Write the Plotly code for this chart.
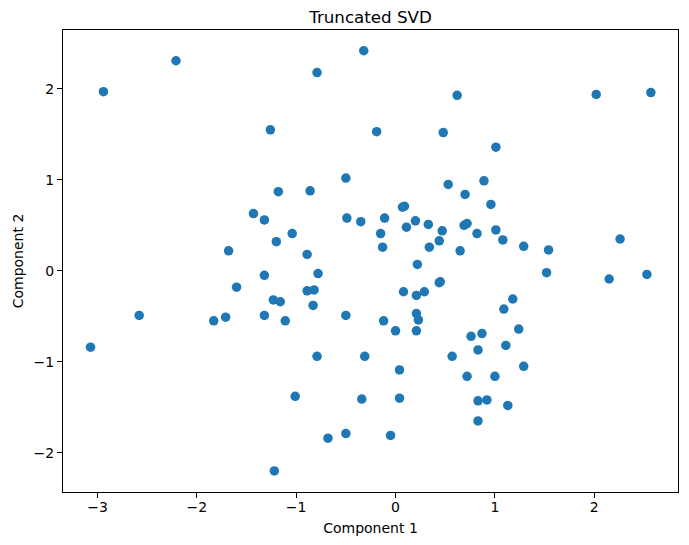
import plotly.graph_objects as go

# component values
comp1 = [
    -2.94, -2.21, -0.79, -1.26, -0.32, -0.19, -0.50, -1.18, -0.86, -1.43,
    -1.32, -1.04, -1.20, -1.68, -0.89, -0.49, -0.35, -1.32, -0.78,
    0.62, 2.02, 2.57, 0.48, 1.01, 0.53, 0.89, 0.70, 0.96, 0.07,
    0.09, -0.11, -0.15, -0.13, 0.11, 0.20, 0.33, 0.47, 0.44, 0.34,
    0.69, 0.72, 0.82, 1.01, 1.08, 1.29, 1.54, 0.65, 0.22, 2.26,
    1.52, 2.53, 2.15,
    -1.60, -0.89, -0.82, -1.23, -1.16, -0.83, -2.58, -1.71, -1.83, -1.32,
    -1.11, -0.50, -3.07, -0.79, -0.31, -1.01, -0.34, -0.68, -0.50, -1.22,
    0.44, 0.45, 0.08, 0.29, 0.21, 1.18, 1.09, 0.21, 0.23, -0.12,
    0.00, 0.21, 1.24, 0.76, 0.87, 1.11, 0.83, 0.57, 1.29, 0.04,
    0.72, 1.00, 0.04, 0.83, 0.92, 1.13, 0.83, -0.05,
]
comp2 = [
    1.97, 2.31, 2.18, 1.55, 2.42, 1.53, 1.02, 0.87, 0.88, 0.63,
    0.56, 0.41, 0.32, 0.22, 0.18, 0.58, 0.54, -0.05, -0.03,
    1.93, 1.94, 1.96, 1.52, 1.36, 0.95, 0.99, 0.84, 0.73, 0.70,
    0.71, 0.58, 0.41, 0.26, 0.48, 0.55, 0.51, 0.44, 0.33, 0.26,
    0.50, 0.52, 0.41, 0.45, 0.34, 0.27, 0.23, 0.22, 0.07, 0.35,
    -0.02, -0.04, -0.09,
    -0.18, -0.22, -0.21, -0.32, -0.34, -0.38, -0.49, -0.51, -0.55, -0.49,
    -0.55, -0.49, -0.84, -0.94, -0.94, -1.38, -1.41, -1.84, -1.79, -2.20,
    -0.13, -0.12, -0.23, -0.23, -0.27, -0.31, -0.42, -0.47, -0.54, -0.55,
    -0.66, -0.66, -0.64, -0.72, -0.69, -0.82, -0.87, -0.94, -1.05, -1.09,
    -1.16, -1.16, -1.40, -1.43, -1.42, -1.48, -1.65, -1.81,
]

fig = go.Figure(go.Scatter(x=comp1, y=comp2, mode='markers',
                           marker=dict(color='#1f77b4', size=9.5, line=dict(width=0))))

axis_style = dict(showline=True, linecolor='black', linewidth=1.1, mirror=True,
                  showgrid=False, zeroline=False, ticks='outside', ticklen=5,
                  tickwidth=1.1, tickcolor='black', dtick=1,
                  tickfont=dict(size=14, color='black'))

# page body adds an 8px offset, so the figure is a bit smaller than the window
W, H = 681, 537
fig.update_layout(
    width=W, height=H,
    margin=dict(l=52, r=10, t=22, b=53),
    plot_bgcolor='white', paper_bgcolor='white',
    font=dict(family='DejaVu Sans', color='black'),
    title=dict(text='Truncated SVD', x=0.5, xref='paper', xanchor='center',
               y=1 - 15 / H, yref='container', yanchor='bottom',
               font=dict(size=16.7, color='black')),
    xaxis=dict(axis_style, range=[-3.347, 2.843], tick0=-3, ticklabelstandoff=-3,
               title=dict(text='Component 1', font=dict(size=14), standoff=9)),
    yaxis=dict(axis_style, range=[-2.432, 2.648], tick0=-2,
               title=dict(text='Component 2', font=dict(size=14), standoff=6)),
    showlegend=False,
)

fig.write_html("out.html")
